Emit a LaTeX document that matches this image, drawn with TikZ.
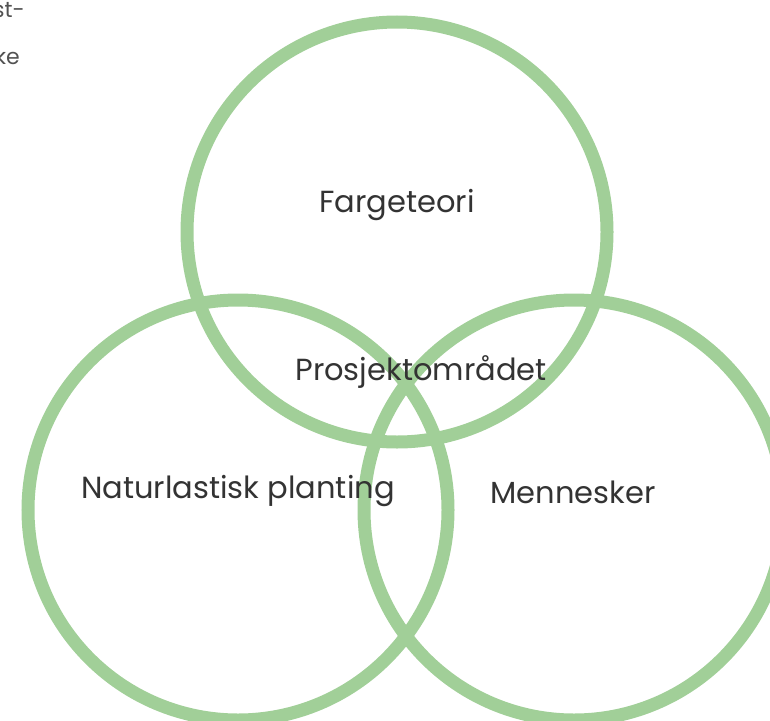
\documentclass[tikz,border=0pt]{standalone}
\usepackage{fontspec}
\setmainfont{Poppins}
\definecolor{ringgreen}{RGB}{161,207,152}
\definecolor{labelgray}{RGB}{51,51,51}
\begin{document}
\begin{tikzpicture}[x=1pt,y=-1pt,
  ring/.style={draw=ringgreen,line width=13pt},
  label/.style={text=labelgray,font=\fontsize{30.5}{36}\selectfont,inner sep=0pt},
  margin/.style={text=labelgray!85,font=\fontsize{22}{26}\selectfont,inner sep=0pt,anchor=east}]
\useasboundingbox (0,0) rectangle (770,720);
\clip (0,0) rectangle (770,720);
% three overlapping rings
\draw[ring] (397,232) circle (210);
\draw[ring] (238,510) circle (210);
\draw[ring] (574,510) circle (210);
% labels
\node[label] (top) at (397,205) {Fargeteori};
\node[label] (mid) at (421,372) {Prosjektområdet};
\node[label] (left) at (238,491) {Naturlastisk planting};
\node[label] (right) at (573,492) {Mennesker};
% text running in from the neighbouring column
\node[margin] (m1) at (25,10) {st-};
\node[margin] (m2) at (20,56) {ke};
\end{tikzpicture}
\end{document}
